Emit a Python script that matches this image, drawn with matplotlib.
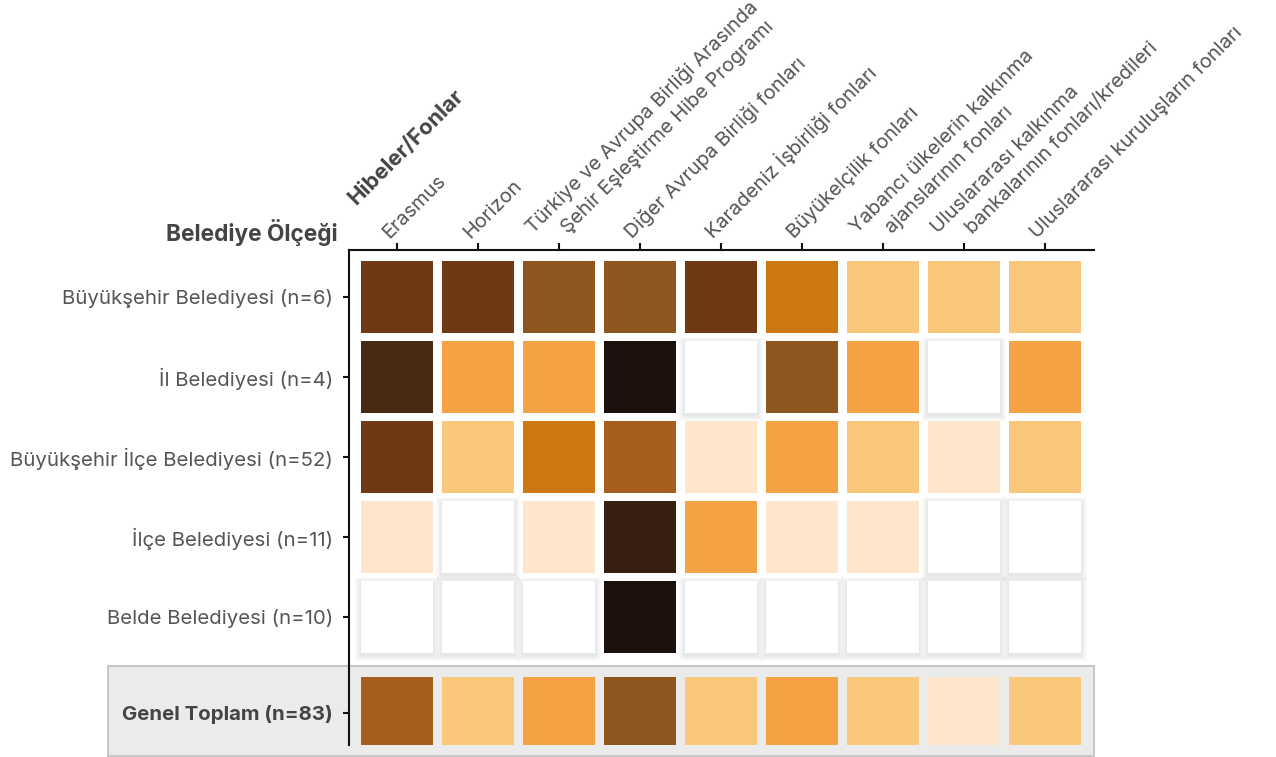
import matplotlib
matplotlib.use('Agg')
import matplotlib.pyplot as plt
from matplotlib.patches import Rectangle
import matplotlib.transforms as mtransforms

plt.rcParams['font.family'] = ['Inter', 'DejaVu Sans']

# ---------------- data ----------------
funds = [
    "Erasmus",
    "Horizon",
    "Türkiye ve Avrupa Birliği Arasında\nŞehir Eşleştirme Hibe Programı",
    "Diğer Avrupa Birliği fonları",
    "Karadeniz İşbirliği fonları",
    "Büyükelçilik fonları",
    "Yabancı ülkelerin kalkınma\najanslarının fonları",
    "Uluslararası kalkınma\nbankalarının fonları/kredileri",
    "Uluslararası kuruluşların fonları",
]
scales = [
    "Büyükşehir Belediyesi (n=6)",
    "İl Belediyesi (n=4)",
    "Büyükşehir İlçe Belediyesi (n=52)",
    "İlçe Belediyesi (n=11)",
    "Belde Belediyesi (n=10)",
    "Genel Toplam (n=83)",
]
# colour level of each cell (0 = none ... 10 = highest)
buyuksehir = [7, 7, 6, 6, 7, 4, 2, 2, 2]
il = [8, 3, 3, 10, 0, 6, 3, 0, 3]
buyuksehir_ilce = [7, 2, 4, 5, 1, 3, 2, 1, 2]
ilce = [1, 0, 1, 9, 3, 1, 1, 0, 0]
belde = [0, 0, 0, 10, 0, 0, 0, 0, 0]
genel_toplam = [5, 2, 3, 6, 2, 3, 2, 1, 2]
levels = [buyuksehir, il, buyuksehir_ilce, ilce, belde, genel_toplam]

palette = ['#FFFFFF', '#FDE6CB', '#FAC87C', '#F5A245', '#CC7810', '#A65E1F',
           '#8E561F', '#6E3914', '#4A2912', '#371F11', '#1C110D']

# ---------------- layout ----------------
W, H = 1276, 757
fig = plt.figure(figsize=(W / 100, H / 100), dpi=100)

row_pos = [0, 1, 2, 3, 4, 5.2]
cw, ch = 72 / 81, 72 / 80
px_x, px_y = 1 / 81, 1 / 80
FS = 14.7
FS_TOP = 14.4

# total box
fig.add_artist(Rectangle((108 / W, 1 - 756 / H), (1094 - 108) / W, (756 - 666) / H,
                         transform=fig.transFigure, facecolor='#EBEBEB',
                         edgecolor='#C8C8C8', lw=1.5, zorder=-1))

ax = fig.add_axes([349 / W, 1 - 745 / H, (1094 - 349) / W, (745 - 250) / H])
ax.set_facecolor('none')
ax.set_xlim(-0.593, 8.605)
ax.set_ylim(5.604, -0.584)

for r, row in enumerate(levels):
    y = row_pos[r]
    for c, v in enumerate(row):
        if v == 0:
            for k in range(1, 7):
                ax.add_patch(Rectangle((c - cw / 2 - k * px_x, y - ch / 2 - k * px_y + 2.5 * px_y),
                                       cw + 2 * k * px_x, ch + 2 * k * px_y,
                                       facecolor='#000000', alpha=0.014, lw=0, zorder=1))
        ax.add_patch(Rectangle((c - cw / 2, y - ch / 2), cw, ch,
                               facecolor=palette[v], lw=0, zorder=2))

for s in ['right', 'bottom']:
    ax.spines[s].set_visible(False)
for s in ['left', 'top']:
    ax.spines[s].set_color('#111111')
    ax.spines[s].set_linewidth(1.5)

ax.xaxis.set_ticks_position('top')
ax.set_xticks(range(len(funds)))
ax.tick_params(axis='x', length=5, width=1.5, color='#111111', labeltop=False, labelbottom=False)

ax.set_yticks(row_pos)
ax.set_yticklabels(scales)
ax.tick_params(axis='y', length=4.5, width=1.5, color='#111111', pad=7,
               labelsize=FS, labelcolor='#555555')
lbl = ax.get_yticklabels()[-1]
lbl.set_fontweight('bold')
lbl.set_color('#444444')

# rotated column labels; each line anchored at its baseline start (pixel offsets from tick top)
trans = mtransforms.blended_transform_factory(ax.transData, ax.transAxes)
single_off = (-8, 11)
line_offs = [(-26, 16), (9, 15.5)]
for i, lab in enumerate(funds):
    lines = lab.split('\n')
    offs = [single_off] if len(lines) == 1 else line_offs
    for line, (dx, dy) in zip(lines, offs):
        off = mtransforms.ScaledTranslation(dx / 100, dy / 100, fig.dpi_scale_trans)
        ax.text(i, 1, line, transform=trans + off, rotation=45, rotation_mode='anchor',
                ha='left', va='baseline', fontsize=FS_TOP, color='#555555')

fig.text(338 / W, 1 - 241 / H, "Belediye Ölçeği", ha='right', va='baseline',
         fontsize=16.3, fontweight='bold', color='#444444')
fig.text(356 / W, 1 - 206 / H, "Hibeler/Fonlar", ha='left', va='baseline',
         rotation=45, rotation_mode='anchor', fontsize=15.8, fontweight='bold', color='#444444')

fig.savefig('out.png', dpi=100)
